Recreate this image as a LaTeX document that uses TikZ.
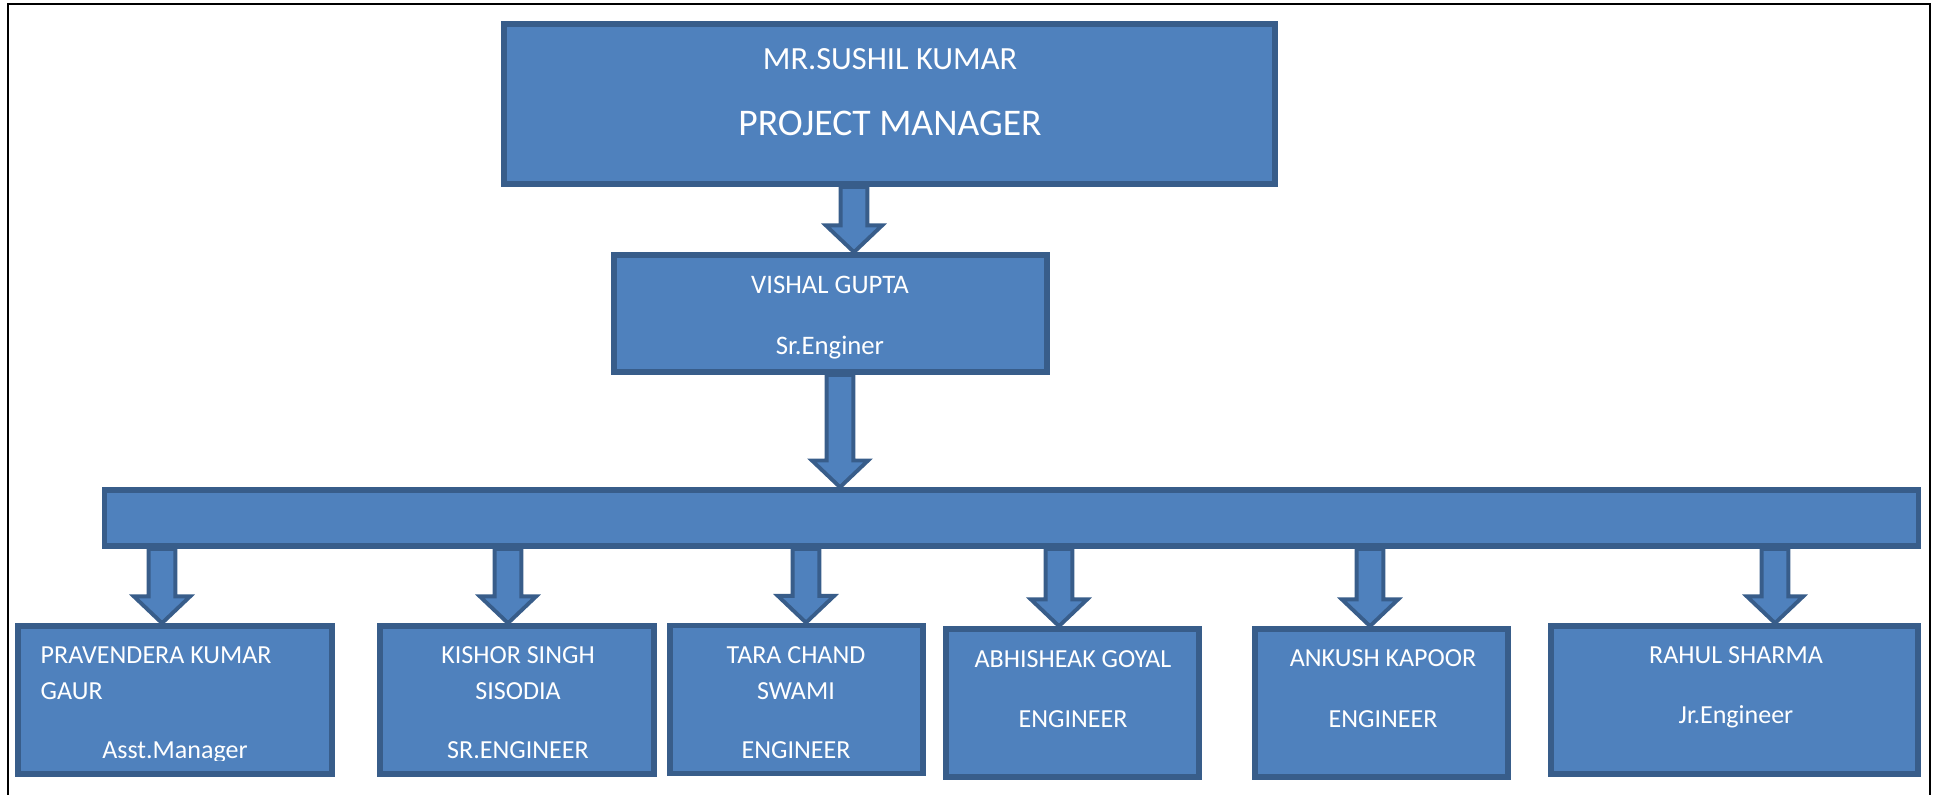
\documentclass[tikz,border=0pt]{standalone}
\usepackage{fontspec}
\setmainfont{Carlito}
\usetikzlibrary{calc,backgrounds}

\definecolor{boxblue}{HTML}{4F81BD}
\definecolor{boxedge}{HTML}{385D8A}

\tikzset{
  box/.style={draw=boxedge, fill=boxblue, line width=1.6pt, inner sep=0pt},
  txt/.style={text=white, inner sep=0pt, anchor=base},
  bigtxt/.style={font=\fontsize{10.7}{13}\selectfont},
  midtxt/.style={font=\fontsize{7.6}{9}\selectfont},
  smalltxt/.style={font=\fontsize{7.4}{8.5}\selectfont},
  arrowline/.style={draw=boxedge, fill=boxblue, line width=1.1pt, line join=miter}
}

% block arrow pointing down, from #1 to the tip #2
\newcommand{\blockdown}[2]{%
  \path[arrowline] let \p1=(#1), \p2=(#2) in
    (\x1-3.8pt,\y1) -- (\x1+3.8pt,\y1) -- (\x1+3.8pt,\y2+7.6pt)
    -- (\x1+8pt,\y2+7.6pt) -- (\x1,\y2) -- (\x1-8pt,\y2+7.6pt)
    -- (\x1-3.8pt,\y2+7.6pt) -- cycle;}

\begin{document}
\begin{tikzpicture}[x=0.01cm, y=-0.01cm]
  \useasboundingbox (0,0) rectangle (1936,795);
  \draw[line width=0.7pt] (8,795) -- (8,4) -- (1930,4) -- (1930,795);

  % boxes
  \node[box, minimum width=7.71cm, minimum height=1.60cm] (pm) at (889.5,104) {};
  \node[box, minimum width=4.33cm, minimum height=1.17cm] (vg) at (830.5,313.5) {};
  \node[box, minimum width=18.13cm, minimum height=0.56cm] (bar) at (1011.5,518) {};
  \foreach \n/\cx/\cy/\w in {b1/175/700/3.14, b2/517/700/2.74,
                             b3/796.5/699.5/2.53, b4/1072.5/703/2.53,
                             b5/1381.5/703/2.53, b6/1734.5/700/3.67}
    \node[box, minimum width=\w cm, minimum height=1.48cm] (\n) at (\cx,\cy) {};

  % arrows
  \begin{scope}[on background layer]
    \coordinate (t1) at (854,0);
    \coordinate (t2) at (840,0);
    \blockdown{pm.south -| t1}{vg.north -| t1}
    \blockdown{vg.south -| t2}{bar.north -| t2}
    \foreach \i/\ax in {1/162, 2/508, 3/806, 4/1059, 5/1370, 6/1775}
    {\coordinate (a\i) at (\ax,0);
     \blockdown{bar.south -| a\i}{b\i.north -| a\i}
    };
  \end{scope}

  % texts
  \node[txt, font=\fontsize{9.2}{11}\selectfont] (pmname) at (890,70) {MR.SUSHIL KUMAR};
  \node[txt, bigtxt] (pmrole) at (890,136) {PROJECT MANAGER};
  \node[txt, midtxt] (vgname) at (830,294) {VISHAL GUPTA};
  \node[txt, midtxt] (vgrole) at (830,355) {Sr.Enginer};

  \node[txt, smalltxt, anchor=base west] (n1a) at (40,664) {PRAVENDERA KUMAR};
  \node[txt, smalltxt, anchor=base west] (n1b) at (40,700) {GAUR};
  \begin{scope}
    \clip (18,600) rectangle (332,761);
    \node[txt, smalltxt] (r1) at (175,759) {Asst.Manager};
  \end{scope}
  \foreach \nm/\x/\y/\str in {n2a/518/664/KISHOR SINGH, n2b/518/700/SISODIA,
                              r2/518/759/SR.ENGINEER,
                              n3a/796/664/TARA CHAND, n3b/796/700/SWAMI,
                              r3/796/759/ENGINEER,
                              n4/1073/668/ABHISHEAK GOYAL, r4/1073/728/ENGINEER,
                              n5/1383/667/ANKUSH KAPOOR, r5/1383/728/ENGINEER,
                              n6/1736/664/RAHUL SHARMA, r6/1736/724/Jr.Engineer}
    \node[txt, smalltxt] (\nm) at (\x,\y) {\str};
\end{tikzpicture}
\end{document}
